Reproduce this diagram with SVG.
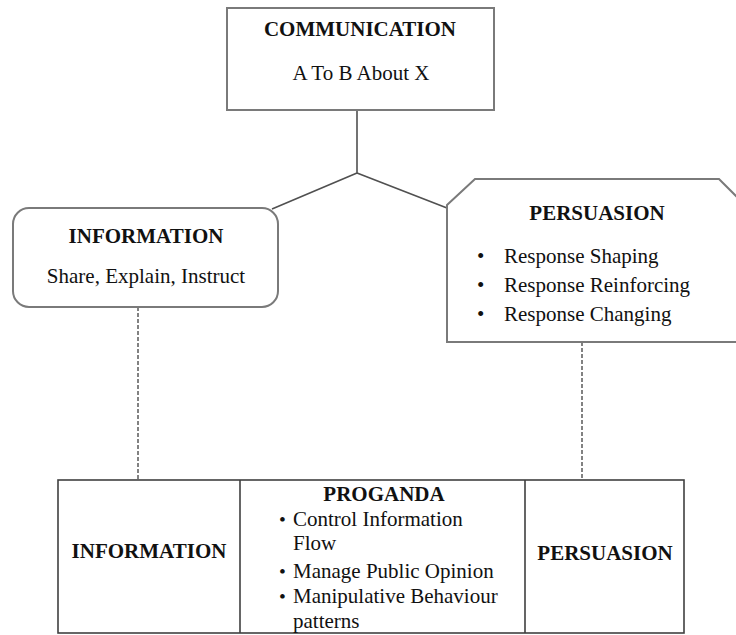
<svg xmlns="http://www.w3.org/2000/svg" width="736" height="635" viewBox="0 0 736 635">
<style>
.box{fill:#fff;stroke:#7a7a7a;stroke-width:2}
.tbl{fill:none;stroke:#404040;stroke-width:1.6}
.con{fill:none;stroke:#505050;stroke-width:1.6}
.dash{fill:none;stroke:#404040;stroke-width:1.3;stroke-dasharray:4,2}
text{font-family:"Liberation Serif","Times New Roman",serif;font-size:21px;fill:#111}
.b{font-weight:bold}
.c{text-anchor:middle}
.sm{font-size:19.5px}
</style>
<rect width="736" height="635" fill="#fff"/>
<g id="connectors">
<path class="con" d="M357,110 L357,173 M357,173 L272,209 M357,173 L447,208"/>
<path class="dash" d="M138,307 L138,480"/>
<path class="dash" d="M582,342 L582,480"/>
</g>
<g id="communication">
<rect class="box" x="227" y="8" width="267" height="102"/>
<text class="b c" x="360" y="36">COMMUNICATION</text>
<text class="c" x="361" y="80">A To B About X</text>
</g>
<g id="information">
<rect class="box" x="13" y="208" width="265" height="99" rx="16"/>
<text class="b c" x="146" y="243">INFORMATION</text>
<text class="c" x="146" y="283">Share, Explain, Instruct</text>
</g>
<g id="persuasion">
<path class="box" d="M447,205 L475,179 L719,179 L745,205 L745,342 L447,342 Z"/>
<text class="b c" x="597" y="220">PERSUASION</text>
<text x="477" y="263">•</text><text x="504" y="263">Response Shaping</text>
<text x="477" y="292">•</text><text x="504" y="292">Response Reinforcing</text>
<text x="477" y="321">•</text><text x="504" y="321">Response Changing</text>
</g>
<g id="propaganda-table">
<rect class="tbl" x="58" y="480" width="626" height="153"/>
<path class="tbl" d="M240,480 L240,633 M525,480 L525,633"/>
<text class="b c" x="149" y="558">INFORMATION</text>
<text class="b c" x="384" y="501">PROGANDA</text>
<text class="sm" x="279" y="526">•</text><text x="293" y="526">Control Information</text>
<text x="293" y="550">Flow</text>
<text class="sm" x="279" y="578">•</text><text x="293" y="578">Manage Public Opinion</text>
<text class="sm" x="279" y="603">•</text><text x="293" y="603">Manipulative Behaviour</text>
<text x="293" y="628">patterns</text>
<text class="b c" x="605" y="560">PERSUASION</text>
</g>
</svg>
